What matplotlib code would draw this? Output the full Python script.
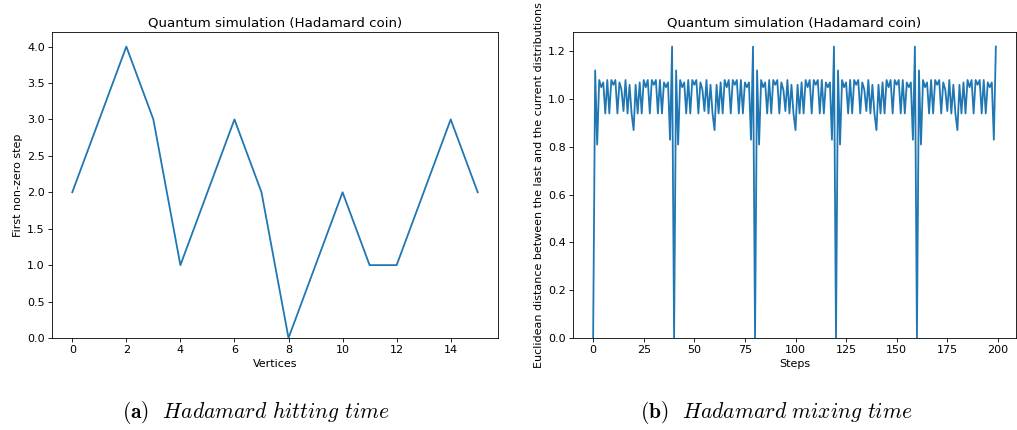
import matplotlib
matplotlib.use("Agg")
import matplotlib.pyplot as plt

plt.rcParams["mathtext.fontset"] = "cm"

# Hitting time: first step with non-zero probability at each vertex
vertices = list(range(16))
first_nonzero_step = [2, 3, 4, 3, 1, 2, 3, 2, 0, 1, 2, 1, 1, 2, 3, 2]

# Mixing time: distance between consecutive distributions, steps 0..199
steps = list(range(200))
distance = [
    0.00, 1.12, 0.81, 1.08, 1.05, 1.07, 0.94, 1.08, 0.94, 1.08,
    1.06, 1.08, 0.94, 1.07, 1.04, 0.95, 1.08, 0.94, 1.06, 0.94,
    0.87, 1.06, 0.94, 1.07, 0.94, 1.08, 1.05, 1.08, 0.94, 1.08,
    1.06, 1.08, 0.94, 1.08, 0.94, 1.07, 1.05, 1.07, 0.83, 1.22,
    0.00, 1.12, 0.81, 1.08, 1.05, 1.07, 0.94, 1.08, 0.94, 1.08,
    1.06, 1.08, 0.94, 1.07, 1.04, 0.95, 1.08, 0.94, 1.06, 0.94,
    0.87, 1.06, 0.94, 1.07, 0.94, 1.08, 1.05, 1.08, 0.94, 1.08,
    1.06, 1.08, 0.94, 1.08, 0.94, 1.07, 1.05, 1.07, 0.83, 1.22,
    0.00, 1.12, 0.81, 1.08, 1.05, 1.07, 0.94, 1.08, 0.94, 1.08,
    1.06, 1.08, 0.94, 1.07, 1.04, 0.95, 1.08, 0.94, 1.06, 0.94,
    0.87, 1.06, 0.94, 1.07, 0.94, 1.08, 1.05, 1.08, 0.94, 1.08,
    1.06, 1.08, 0.94, 1.08, 0.94, 1.07, 1.05, 1.07, 0.83, 1.22,
    0.00, 1.12, 0.81, 1.08, 1.05, 1.07, 0.94, 1.08, 0.94, 1.08,
    1.06, 1.08, 0.94, 1.07, 1.04, 0.95, 1.08, 0.94, 1.06, 0.94,
    0.87, 1.06, 0.94, 1.07, 0.94, 1.08, 1.05, 1.08, 0.94, 1.08,
    1.06, 1.08, 0.94, 1.08, 0.94, 1.07, 1.05, 1.07, 0.83, 1.22,
    0.00, 1.12, 0.81, 1.08, 1.05, 1.07, 0.94, 1.08, 0.94, 1.08,
    1.06, 1.08, 0.94, 1.07, 1.04, 0.95, 1.08, 0.94, 1.06, 0.94,
    0.87, 1.06, 0.94, 1.07, 0.94, 1.08, 1.05, 1.08, 0.94, 1.08,
    1.06, 1.08, 0.94, 1.08, 0.94, 1.07, 1.05, 1.07, 0.83, 1.22,
]

title = "Quantum simulation (Hadamard coin)"
captions = [r"$\mathbf{(a)}$  $\mathit{Hadamard\ hitting\ time}$",
            r"$\mathbf{(b)}$  $\mathit{Hadamard\ mixing\ time}$"]

W, H = 1017, 430
fig = plt.figure(figsize=(W / 100, H / 100), dpi=100)

def axes_px(left, top, right, bottom):
    return fig.add_axes([left / W, 1 - bottom / H, (right - left) / W, (bottom - top) / H])

label_fs = 8.0
title_fs = 9.6
lw = 1.3
color = "#1f77b4"

ax1 = axes_px(52, 32, 498, 338)
ax1.plot(vertices, first_nonzero_step, color=color, lw=lw)
ax1.set_ylim(bottom=0)
ax1.set_xticks(range(0, 16, 2))
ax1.set_title(title, fontsize=title_fs, pad=4)
ax1.set_xlabel("Vertices", fontsize=label_fs, labelpad=3)
ax1.set_ylabel("First non-zero step", fontsize=label_fs, labelpad=3)

ax2 = axes_px(573, 32, 1016, 338)
ax2.plot(steps, distance, color=color, lw=lw)
ax2.set_ylim(bottom=0)
ax2.set_xticks(range(0, 201, 25))
ax2.set_title(title, fontsize=title_fs, pad=4)
ax2.set_xlabel("Steps", fontsize=label_fs, labelpad=3)
ax2.set_ylabel("Euclidean distance between the last and the current distributions",
               fontsize=label_fs, labelpad=3)

for ax in (ax1, ax2):
    ax.tick_params(labelsize=label_fs, length=2.6, width=0.6, pad=2.5)
    for s in ax.spines.values():
        s.set_linewidth(0.6)

fig.text(256 / W, 1 - 412 / H, captions[0], ha="center", va="center", fontsize=15.5)
fig.text(776 / W, 1 - 412 / H, captions[1], ha="center", va="center", fontsize=15.5)

fig.savefig("out.png", dpi=100)
